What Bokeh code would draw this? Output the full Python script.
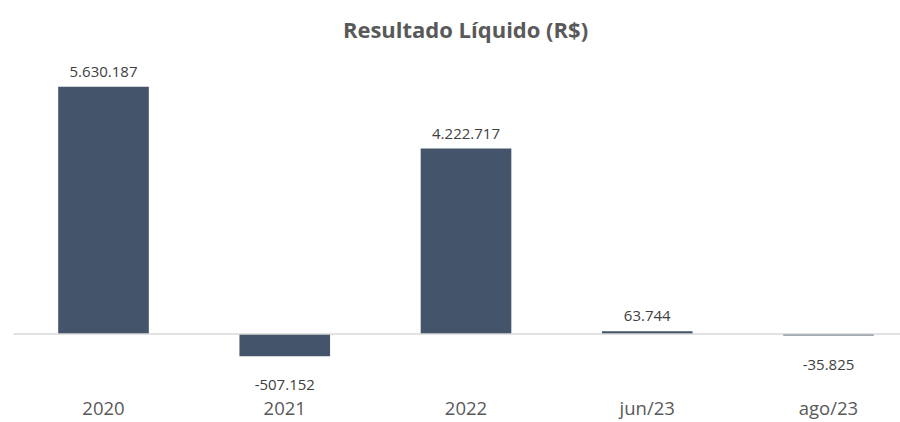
import numpy as np
from bokeh.plotting import figure
from bokeh.models import ColumnDataSource, Range1d, FixedTicker, Span, Label
from bokeh.core.properties import value
from bokeh.embed import file_html
from bokeh.resources import INLINE

# ---- data ----
categories = ["2020", "2021", "2022", "jun/23", "ago/23"]
results = [5630187, -507152, 4222717, 63744, -35825]
value_labels = ["5.630.187", "-507.152", "4.222.717", "63.744", "-35.825"]
title_text = "Resultado Líquido (R$)"

BAR_COLOR = "#44546A"
FONT = "Open Sans"

W, H = 900, 422
LEFT = 13              # frame left (px)
FRAME_TOP = 0
FRAME_BOTTOM = 393
ZERO = 336             # px of zero line
UNITS_PER_PX = 22600.0
PX_PER_CAT = 181.25
FIRST_CENTER = 103

x = list(range(len(categories)))
offsets = [-15 if v >= 0 else 29 for v in results]
src = ColumnDataSource(dict(x=x, top=results, label=value_labels, off=offsets))

x_start = -(FIRST_CENTER - LEFT) / PX_PER_CAT
x_end = x_start + (W - LEFT) / PX_PER_CAT
y_end = (ZERO - FRAME_TOP) * UNITS_PER_PX
y_start = -(FRAME_BOTTOM - ZERO) * UNITS_PER_PX

p = figure(width=W, height=H, output_backend="svg", toolbar_location=None,
           x_range=Range1d(x_start, x_end), y_range=Range1d(y_start, y_end),
           min_border_left=LEFT, min_border_right=0, min_border_top=FRAME_TOP,
           min_border_bottom=H - FRAME_BOTTOM)
p.outline_line_color = None
p.xgrid.visible = False
p.ygrid.visible = False
p.yaxis.visible = False

p.vbar(x="x", top="top", bottom=0, width=0.5, source=src,
       fill_color=BAR_COLOR, line_color=None)

p.add_layout(Span(location=0, dimension="width", line_color="#D9D9D9", line_width=1.5))

p.text(x="x", y="top", text="label", y_offset="off", source=src,
       text_align="center", text_baseline="alphabetic",
       text_font=value(FONT), text_font_size="15px", text_color="#404040")

ax = p.xaxis[0]
ax.ticker = FixedTicker(ticks=x)
ax.major_label_overrides = {i: c for i, c in enumerate(categories)}
ax.axis_line_color = None
ax.major_tick_line_color = None
ax.minor_tick_line_color = None
ax.major_tick_in = 0
ax.major_tick_out = 0
ax.major_label_standoff = 4
ax.major_label_text_font = FONT
ax.major_label_text_font_size = "18.5px"
ax.major_label_text_color = "#595959"

# title: screen units are measured from the frame's bottom-left corner
p.add_layout(Label(x=465 - LEFT, y=FRAME_BOTTOM - 31, x_units="screen", y_units="screen",
                   text=title_text, text_align="center", text_baseline="alphabetic",
                   text_font=FONT, text_font_style="bold", text_font_size="22px",
                   text_color="#595959"))

open("out.html", "w").write(file_html(p, INLINE))
